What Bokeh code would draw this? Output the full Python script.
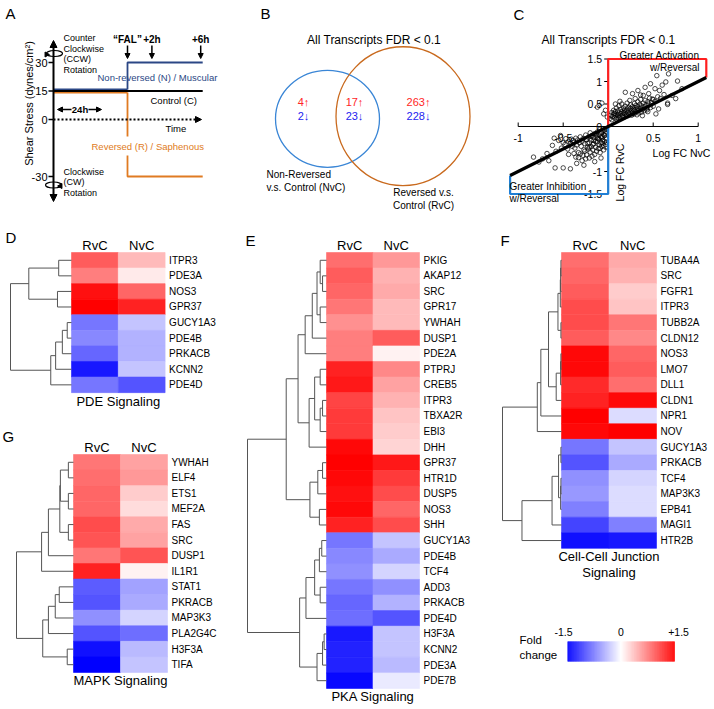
import numpy as np
from bokeh.plotting import figure
from bokeh.models import Range1d, Arrow, NormalHead, ColumnDataSource
from bokeh.core.properties import value
from bokeh.transform import linear_cmap
from bokeh.embed import file_html
from bokeh.resources import INLINE

FONT = "Liberation Sans"

# ---------------- DATA ----------------
# Panel A (schematic)
A_stress_ticks = [30, 15, 0, -30]
A_event_labels = ["\u201cFAL\u201d", "+2h", "+6h"]
A_event_hours = [0, 2, 6]
A_control = 15
A_nonrev = 30
A_rev = -30

# Panel B (Venn counts: NvC only, both, RvC only)
venn_up = [4, 17, 263]
venn_down = [2, 23, 228]

# Panel C scatter (Log FC NvC, Log FC RvC)
c_nvc = [0.02,0.03,0.04,0.05,0.06,0.06,0.07,0.08,0.08,0.09,
         0.10,0.10,0.11,0.12,0.12,0.13,0.14,0.14,0.15,0.15,
         0.16,0.17,0.17,0.18,0.18,0.19,0.20,0.20,0.21,0.21,
         0.22,0.23,0.23,0.24,0.25,0.25,0.26,0.27,0.27,0.28,
         0.29,0.29,0.30,0.31,0.31,0.32,0.33,0.33,0.34,0.35,
         0.36,0.36,0.37,0.38,0.39,0.40,0.41,0.42,0.43,0.44,
         0.45,0.46,0.48,0.50,0.52,0.55,0.58,0.62,0.66,0.19,
         0.27,0.33,0.39,0.41,0.45,0.49,0.54,0.57,0.64,0.67,
         0.71,0.77,0.82,0.30,0.24,0.13,0.08,0.52,0.60,0.47,
         0.36,0.38,0.56,0.27,0.53,0.44,0.32,0.66,0.75,-0.07,
         -0.12,-0.03,-0.01,-0.05,0.04,0.09,0.13,0.16,0.19,0.22,
         0.26,0.29,0.34,0.37,0.40,0.43,0.47,0.50,0.11,0.07,
         -0.02,-0.03,-0.04,-0.05,-0.06,-0.07,-0.08,-0.09,-0.10,-0.11,
         -0.12,-0.13,-0.14,-0.15,-0.16,-0.17,-0.18,-0.19,-0.20,-0.21,
         -0.22,-0.23,-0.24,-0.25,-0.26,-0.27,-0.28,-0.29,-0.30,-0.31,
         -0.32,-0.33,-0.34,-0.35,-0.36,-0.37,-0.38,-0.39,-0.40,-0.41,
         -0.42,-0.44,-0.45,-0.47,-0.48,-0.50,-0.02,-0.03,-0.04,-0.05,
         -0.06,-0.07,-0.08,-0.09,-0.10,-0.11,-0.12,-0.13,-0.14,-0.15,
         -0.16,-0.17,-0.18,-0.19,-0.20,-0.21,-0.22,-0.24,-0.25,-0.26,
         -0.28,-0.29,-0.31,-0.33,-0.36,-0.38,-0.83,-0.77,-0.73,-0.66,
         -0.59,-0.50,-0.42,-0.21,-0.55,-0.62,-0.58,-0.68,-0.52,-0.44,
         -0.35,-0.27,-0.15,-0.08,-0.53,-0.60,-0.04,-0.07,-0.10,-0.13,
         -0.03,-0.06,-0.09,-0.12,-0.02,-0.05,-0.08,-0.16,-0.19,-0.23]
c_rvc = [0.18,0.25,0.31,0.22,0.28,0.36,0.19,0.24,0.33,0.41,
         0.27,0.20,0.35,0.30,0.46,0.23,0.38,0.28,0.33,0.50,
         0.25,0.41,0.31,0.36,0.29,0.45,0.34,0.27,0.39,0.52,
         0.31,0.43,0.36,0.29,0.40,0.48,0.34,0.44,0.31,0.38,
         0.51,0.36,0.42,0.33,0.47,0.39,0.55,0.44,0.36,0.49,
         0.41,0.60,0.46,0.38,0.52,0.44,0.58,0.48,0.41,0.55,
         0.50,0.63,0.53,0.60,0.56,0.66,0.62,0.71,0.49,0.76,
         0.73,0.80,0.69,0.87,0.73,0.61,1.13,0.80,0.99,1.17,
         0.69,1.01,0.84,0.62,0.58,0.56,0.50,0.84,0.92,0.95,
         0.70,0.24,0.39,0.28,0.28,0.33,0.26,0.52,0.62,0.52,
         0.43,0.36,0.21,0.28,0.15,0.17,0.19,0.21,0.22,0.24,
         0.25,0.28,0.30,0.32,0.35,0.37,0.42,0.45,0.24,0.29,
         -0.05,-0.12,-0.08,-0.18,-0.10,-0.22,-0.14,-0.06,-0.19,-0.27,
         -0.12,-0.21,-0.33,-0.16,-0.25,-0.40,-0.20,-0.30,-0.14,-0.36,
         -0.24,-0.46,-0.29,-0.19,-0.38,-0.52,-0.27,-0.33,-0.44,-0.23,
         -0.36,-0.58,-0.30,-0.41,-0.26,-0.48,-0.35,-0.31,-0.44,-0.28,
         -0.38,-0.33,-0.50,-0.27,-0.40,-0.36,-0.28,-0.40,-0.33,-0.52,
         -0.30,-0.44,-0.36,-0.58,-0.41,-0.49,-0.34,-0.55,-0.46,-0.62,
         -0.38,-0.52,-0.66,-0.45,-0.57,-0.70,-0.50,-0.63,-0.72,-0.55,
         -0.64,-0.76,-0.61,-0.69,-0.68,-0.60,-0.68,-0.79,-0.72,-0.76,
         -0.92,-0.92,-0.94,-0.46,-0.31,-0.42,-0.55,-0.60,-0.48,-0.62,
         -0.82,-0.86,-0.78,-0.70,-0.20,-0.26,-0.20,-0.25,-0.29,-0.16,
         -0.16,-0.38,-0.48,-0.26,-0.35,-0.43,-0.24,-0.31,-0.22,-0.37]
c_xticks = [-1, -0.5, 0, 0.5, 1]
c_xlabels = ["-1", "-0.5", "", "0.5", "1"]
c_yticks = [1.5, 1, 0.5, 0, -0.5, -1, -1.5]
c_ylabels = ["1.5", "1", "0.5", "0", "", "-1", "-1.5"]
c_line_extent = 1.09
c_box_extent = 1.5

# Heatmaps: (gene, RvC, NvC) and linkage (a, b, relative height)
D_genes = ["ITPR3", "PDE3A", "NOS3", "GPR37", "GUCY1A3", "PDE4B", "PRKACB", "KCNN2", "PDE4D"]
D_rvc = [0.95, 0.75, 1.4, 1.5, -0.8, -0.7, -0.9, -1.35, -0.8]
D_nvc = [0.4, 0.12, 0.9, 1.3, -0.35, -0.45, -0.45, -0.35, -1.0]
D_link = [(0, 1, .21), (2, 3, .23), (9, 10, .70), (4, 5, .07), (12, 6, .15),
          (13, 7, .26), (14, 8, .34), (11, 15, 1.0)]

E_genes = ["PKIG", "AKAP12", "SRC", "GPR17", "YWHAH", "DUSP1", "PDE2A", "PTPRJ", "CREB5",
           "ITPR3", "TBXA2R", "EBI3", "DHH", "GPR37", "HTR1D", "DUSP5", "NOS3", "SHH",
           "GUCY1A3", "PDE4B", "TCF4", "ADD3", "PRKACB", "PDE4D", "H3F3A", "KCNN2", "PDE3A", "PDE7B"]
E_rvc = [0.85, 0.95, 0.9, 0.8, 0.65, 0.75, 0.75, 1.3, 1.35, 1.1, 1.15, 1.15, 1.45, 1.5,
         1.45, 1.4, 1.45, 1.3, -0.8, -0.7, -0.65, -0.8, -0.9, -0.85, -1.35, -1.3, -1.3, -1.45]
E_nvc = [0.6, 0.45, 0.5, 0.4, 0.4, 0.95, 0.08, 0.7, 0.55, 0.45, 0.35, 0.3, 0.25, 1.35,
         1.15, 1.05, 0.9, 1.05, -0.35, -0.5, -0.25, -0.65, -0.45, -1.0, -0.35, -0.35, -0.4, -0.12]
E_link = [(1, 2, .05), (0, 28, .08), (3, 4, .08), (29, 30, .12), (31, 5, .18), (32, 6, .27),
          (7, 8, .08), (9, 10, .05), (35, 11, .08), (34, 36, .15), (37, 12, .22), (33, 38, .36),
          (13, 14, .05), (40, 15, .11), (16, 17, .09), (41, 42, .21), (39, 43, .51),
          (18, 19, .06), (45, 20, .09), (21, 22, .08), (46, 47, .15), (48, 23, .26),
          (24, 25, .03), (50, 26, .05), (51, 27, .12), (49, 52, .34), (44, 53, 1.0)]

F_genes = ["TUBA4A", "SRC", "FGFR1", "ITPR3", "TUBB2A", "CLDN12", "NOS3", "LMO7", "DLL1",
           "CLDN1", "NPR1", "NOV", "GUCY1A3", "PRKACB", "TCF4", "MAP3K3", "EPB41", "MAGI1", "HTR2B"]
F_rvc = [0.85, 0.9, 0.95, 1.05, 1.05, 0.95, 1.45, 1.45, 1.25, 1.3, 1.5, 1.45,
         -0.8, -1.0, -0.65, -0.6, -0.75, -1.1, -1.4]
F_nvc = [0.5, 0.45, 0.3, 0.35, 0.8, 0.7, 0.9, 0.95, 0.85, 1.45, -0.2, 1.5,
         -0.35, -0.5, -0.25, -0.2, -0.2, -0.75, -1.35]
F_link = [(0, 1, .01), (19, 2, .015), (20, 3, .02), (4, 5, .01), (21, 22, .06),
          (6, 7, .01), (24, 8, .015), (25, 9, .09), (23, 26, .22), (27, 10, .35), (28, 11, .41),
          (12, 13, .01), (14, 15, .01), (31, 16, .015), (30, 32, .05), (33, 17, .16),
          (34, 18, .67), (29, 35, 1.0)]

G_genes = ["YWHAH", "ELF4", "ETS1", "MEF2A", "FAS", "SRC", "DUSP1", "IL1R1", "STAT1",
           "PKRACB", "MAP3K3", "PLA2G4C", "H3F3A", "TIFA"]
G_rvc = [0.8, 0.85, 0.9, 0.9, 1.05, 1.0, 0.8, 1.3, -0.95, -1.0, -0.65, -1.0, -1.4, -1.5]
G_nvc = [0.55, 0.6, 0.3, 0.2, 0.5, 0.55, 1.0, 0.08, -0.55, -0.5, -0.25, -0.85, -0.4, -0.35]
G_link = [(0, 1, .09), (2, 3, .09), (4, 5, .09), (14, 15, .23), (17, 16, .24), (18, 6, .44),
          (19, 7, .56), (8, 9, .25), (21, 10, .32), (22, 11, .44), (12, 13, .11),
          (23, 24, .54), (20, 25, 1.0)]

cb_ticks = [-1.5, 0, 1.5]
cb_labels = ["-1.5", "0", "+1.5"]

# ---------------- FIGURE ----------------
W, H = 714, 709
p = figure(width=W, height=H, x_range=Range1d(0, W), y_range=Range1d(H, 0),
           output_backend="svg", toolbar_location=None, min_border=0,
           x_axis_location=None, y_axis_location=None, outline_line_color=None)
p.grid.grid_line_color = None
p.background_fill_color = "white"
p.border_fill_color = "white"


def T(x, y, s, size, color="black", align="left", baseline="middle", style="normal", angle=0.0):
    if not isinstance(x, (list, tuple)):
        x, y, s = [x], [y], [s]
    p.text(x=list(x), y=list(y), text=list(s), text_font=value(FONT), text_font_size=f"{size}px",
           text_color=color, text_align=align, text_baseline=baseline,
           text_font_style=style, angle=angle)


def arrow(x1, y1, x2, y2, w=1.5, size=6, color="black", dash="solid"):
    p.add_layout(Arrow(end=NormalHead(size=size, fill_color=color, line_color=color, line_width=1),
                       x_start=x1, y_start=y1, x_end=x2, y_end=y2,
                       line_width=w, line_color=color, line_dash=dash))


# panel letters
for lab, lx, ly in [("A", 5, 13), ("B", 260, 13), ("C", 513, 14), ("D", 5, 237),
                    ("E", 245, 240), ("F", 500, 240), ("G", 2, 436)]:
    T(lx, ly, lab, 15)

# ---------------- Panel A ----------------
NAVY = "#2b4785"
ORANGE = "#e07b22"


def ay(s):
    return 119 - 1.9 * s


def at(h):
    return 127 + 12.2 * h


AX = 53
AEND = at(6) + 2
arrow(AX, ay(0), AX, 40, w=2, size=7)
arrow(AX, ay(0), AX, 201, w=2, size=7)
for s in A_stress_ticks:
    p.segment(x0=[AX - 5], y0=[ay(s)], x1=[AX], y1=[ay(s)], line_color="black", line_width=1.5)
T([AX - 6] * 4, [ay(s) for s in A_stress_ticks], [str(s) for s in A_stress_ticks], 11, align="right")
arrow(AX, ay(0), 201, ay(0), w=2, size=6, dash="2 2")
T(165, ay(0) + 9, "Time", 9.5)
# 24h arrows
arrow(71, 109, 57, 109, w=1.5, size=5)
arrow(88, 109, 101, 109, w=1.5, size=5)
T(79.5, 109, "24h", 9.5, align="center", style="bold")
# rotation symbols
p.ellipse(x=[AX + 1, AX], y=[ay(35) + 0.5, ay(-35) - 1], width=[16, 16], height=[6, 6],
          fill_color=None, line_color="black", line_width=1.2)
p.scatter(x=[AX - 7, AX + 7], y=[ay(35) + 1.5, ay(-35)], marker="triangle", size=5,
          angle=[-1.57, 1.57], fill_color="black", line_color="black")
# lines
p.line(x=[AX, at(0)], y=[ay(A_control) - 1.6] * 2, line_color=NAVY, line_width=1.6)
p.line(x=[at(0), at(0), AEND], y=[ay(A_control) - 1.6, ay(A_nonrev), ay(A_nonrev)],
       line_color=NAVY, line_width=1.8)
p.line(x=[AX, at(0)], y=[ay(A_control) + 1.6] * 2, line_color=ORANGE, line_width=1.6)
p.line(x=[at(0), at(0)], y=[ay(A_control) + 1.6, 136], line_color=ORANGE, line_width=1.8)
p.line(x=[at(0), at(0), AEND], y=[155, ay(A_rev), ay(A_rev)], line_color=ORANGE, line_width=1.8)
p.line(x=[AX, AEND], y=[ay(A_control)] * 2, line_color="black", line_width=1.8)
for lab, h in zip(A_event_labels, A_event_hours):
    arrow(at(h), 45, at(h), 58, w=1.5, size=5)
    T(at(h), 38.5, lab, 10, align="center", style="bold")
T(97, 77, "Non-reversed (N) / Muscular", 9.5, color=NAVY)
T(150, 100, "Control (C)", 9.5)
T(91, 146, "Reversed (R) / Saphenous", 9.5, color=ORANGE)
T([63] * 4, [37.5, 48, 58.5, 69], ["Counter", "Clockwise", "(CCW)", "Rotation"], 9)
T([63] * 3, [171, 181.5, 192], ["Clockwise", "(CW)", "Rotation"], 9)
T(28, 103, "Shear Stress (dynes/cm\u00b2)", 11, align="center", angle=np.pi / 2)

# ---------------- Panel B ----------------
p.ellipse(x=[327], y=[118.3], width=[104], height=[97], fill_color=None,
          line_color="#3a86d6", line_width=1.3)
p.ellipse(x=[402.5], y=[115.7], width=[134], height=[139], fill_color=None,
          line_color="#c96a1e", line_width=1.3)
venn_x = [303, 354, 418]
T(venn_x, [101] * 3, [f"{n}\u2191" for n in venn_up], 11, color="#ff2626", align="center")
T(venn_x, [115] * 3, [f"{n}\u2193" for n in venn_down], 11, color="#2323f0", align="center")
T(373.5, 39, "All Transcripts FDR < 0.1", 12, align="center")
T([266, 266], [174, 187], ["Non-Reversed", "v.s. Control (NvC)"], 10)
T([423, 423], [192, 204.5], ["Reversed v.s.", "Control (RvC)"], 10, align="center")

# ---------------- Panel C ----------------


def cx(v):
    return 607.7 + 90.0 * np.asarray(v, dtype=float)


def cy(v):
    return 126.0 - 45.0 * np.asarray(v, dtype=float)


p.line(x=[cx(-1), cx(1)], y=[cy(0)] * 2, line_color="black", line_width=1)
p.line(x=[cx(0)] * 2, y=[cy(1.5), cy(-1.5)], line_color="black", line_width=1)
xt = np.array(c_xticks, dtype=float)
p.segment(x0=cx(xt), y0=[cy(0)] * len(xt), x1=cx(xt), y1=[cy(0) - 4] * len(xt),
          line_color="black", line_width=1)
yt = np.array(c_yticks, dtype=float)
p.segment(x0=[cx(0) - 4] * len(yt), y0=cy(yt), x1=[cx(0)] * len(yt), y1=cy(yt),
          line_color="black", line_width=1)
T(list(cx(xt)), [cy(0) + 11] * len(xt), c_xlabels, 10.5, align="center")
T([cx(0) - 6] * len(yt), list(cy(yt)), c_ylabels, 10.5, align="right")
p.scatter(x=cx(c_nvc), y=cy(c_rvc), marker="circle", size=4.5, fill_color=None,
          line_color="black", line_width=0.7)
e = c_box_extent
L = c_line_extent
p.line(x=list(cx([0, 0, L, L])), y=list(cy([0, e, e, L])), line_color="#ff1f1f", line_width=2.2)
p.line(x=list(cx([0, 0, -L, -L])), y=list(cy([0, -e, -e, -L])), line_color="#1f7fd6", line_width=2.2)
p.line(x=list(cx([-L, L])), y=list(cy([-L, L])), line_color="black", line_width=3.2)
T(608, 39, "All Transcripts FDR < 0.1", 12, align="center")
T([699, 699], [54.5, 67], ["Greater Activation", "w/Reversal"], 10, align="right")
T([509, 509], [186, 198], ["Greater Inhibition", "w/Reversal"], 10)
T(681, 152, "Log FC NvC", 10.5, align="center")
T(619.5, 172, "Log FC RvC", 10.5, align="center", angle=np.pi / 2)

# ---------------- Heatmaps ----------------
PAL = []
for i in range(256):
    t = i / 255
    if t < 0.5:
        f = t / 0.5
        PAL.append("#%02x%02x%02x" % (int(round(255 * f)), int(round(255 * f)), 255))
    else:
        f = (t - 0.5) / 0.5
        PAL.append("#%02x%02x%02x" % (255, int(round(255 * (1 - f))), int(round(255 * (1 - f)))))

ROWH = 15.57


def heatmap(genes, rvc, nvc, links, left, top, colw, dw, footer):
    n = len(genes)
    xs, ys, vs = [], [], []
    for j, col in enumerate([rvc, nvc]):
        for i, v in enumerate(col):
            xs.append(left + colw * (j + 0.5))
            ys.append(top + ROWH * (i + 0.5))
            vs.append(v)
    src = ColumnDataSource(dict(x=xs, y=ys, v=vs))
    cm = linear_cmap("v", PAL, -1.5, 1.5)
    p.rect("x", "y", width=colw, height=ROWH, source=src, fill_color=cm, line_color=cm, line_width=0.6)
    T([left + 2 * colw + 4] * n, [top + ROWH * (i + 0.5) for i in range(n)], genes, 10)
    T([left + colw * 0.5, left + colw * 1.5], [top - 7.5] * 2, ["RvC", "NvC"], 13, align="center")
    bottom = top + ROWH * n
    T([left + colw] * len(footer), [bottom + 8.5 + 16 * k for k in range(len(footer))], footer, 13,
      align="center")
    pos = {i: (left, top + ROWH * (i + 0.5)) for i in range(n)}
    mx, my = [], []
    for k, (a, b, h) in enumerate(links):
        xm = left - h * dw
        xa, ya = pos[a]
        xb, yb = pos[b]
        mx.append([xa, xm, xm, xb])
        my.append([ya, ya, yb, yb])
        pos[n + k] = (xm, (ya + yb) / 2)
    p.multi_line(mx, my, line_color="#555555", line_width=1)


heatmap(D_genes, D_rvc, D_nvc, D_link, 71, 252, 46.8, 61, ["PDE Signaling"])
heatmap(E_genes, E_rvc, E_nvc, E_link, 326, 252, 46.5, 79, ["PKA Signaling"])
heatmap(F_genes, F_rvc, F_nvc, F_link, 561, 252, 47.5, 59, ["Cell-Cell Junction", "Signaling"])
heatmap(G_genes, G_rvc, G_nvc, G_link, 73, 454, 47, 57, ["MAPK Signaling"])

# colour bar
CB_L, CB_R, CB_T, CB_B = 567, 674, 641, 661
step = (CB_R - CB_L) / len(PAL)
p.quad(left=CB_L + step * np.arange(len(PAL)), right=CB_L + step * (np.arange(len(PAL)) + 1) + 0.3,
       top=[CB_T] * len(PAL), bottom=[CB_B] * len(PAL), fill_color=PAL, line_color=None)


def cbx(v):
    return CB_L + (v + 1.5) / 3.0 * (CB_R - CB_L)


T([cbx(v) + 2.7 * v for v in cb_ticks], [631] * 3, cb_labels, 10.5, align="center")
T([519, 519], [639, 654], ["Fold", "change"], 11.5)

open("out.html", "w").write(file_html(p, INLINE))
